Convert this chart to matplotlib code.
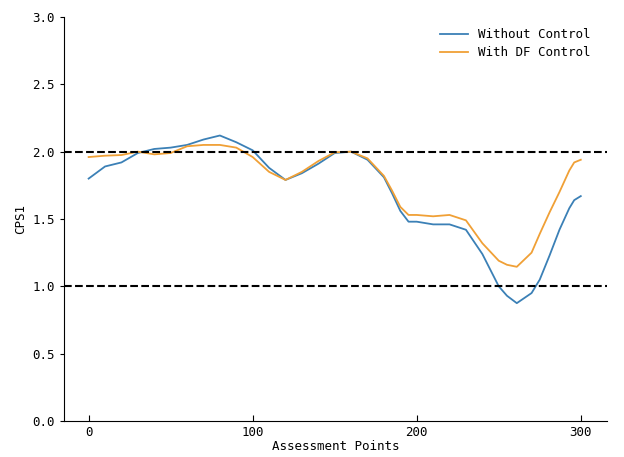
import numpy as np
import matplotlib
matplotlib.use("Agg")
import matplotlib.pyplot as plt

# assessment points
points = [0, 10, 20, 30, 40, 50, 60, 70, 80, 90,
          100, 110, 120, 130, 140, 150, 160, 170, 180, 185,
          190, 195, 200, 210, 220, 230, 240, 250, 255, 261,
          270, 275, 281, 287, 293, 296, 300]

without_control = [1.80, 1.89, 1.92, 1.99, 2.02, 2.03, 2.05, 2.09, 2.12, 2.07,
                   2.01, 1.88, 1.79, 1.84, 1.91, 1.99, 2.00, 1.94, 1.81, 1.69,
                   1.56, 1.48, 1.48, 1.46, 1.46, 1.42, 1.24, 1.00, 0.93, 0.875,
                   0.95, 1.05, 1.23, 1.42, 1.58, 1.64, 1.67]
with_df_control = [1.96, 1.97, 1.975, 2.00, 1.98, 1.99, 2.04, 2.05, 2.05, 2.03,
                   1.96, 1.85, 1.79, 1.85, 1.93, 1.995, 2.00, 1.95, 1.82, 1.71,
                   1.59, 1.53, 1.53, 1.52, 1.53, 1.49, 1.32, 1.19, 1.16, 1.145,
                   1.25, 1.39, 1.55, 1.70, 1.86, 1.92, 1.94]

limits = [2.0, 1.0]

plt.rcParams['font.family'] = ['DejaVu Sans Mono']
plt.rcParams['font.size'] = 9

fig = plt.figure(figsize=(6.24, 4.57), dpi=100)
ax = fig.add_axes([0.1026, 0.0788, 0.8702, 0.884])

ax.plot(points, without_control, color='#3b80b6', lw=1.3, label='Without Control')
ax.plot(points, with_df_control, color='#f0a036', lw=1.3, label='With DF Control')
for lim in limits:
    ax.axhline(lim, color='black', ls='--', lw=1.5)

ax.set_xlim(-15, 316)
ax.set_ylim(0, 3)
ax.set_xticks([0, 100, 200, 300])
ax.set_yticks(np.arange(0, 3.01, 0.5))
ax.set_yticklabels(['%.1f' % v for v in np.arange(0, 3.01, 0.5)])
ax.tick_params(axis='x', direction='in', length=4)
ax.tick_params(axis='y', direction='out', length=3)

ax.spines['top'].set_visible(False)
ax.spines['right'].set_visible(False)
ax.set_xlabel('Assessment Points', labelpad=1)
ax.set_ylabel('CPS1', labelpad=4)

ax.legend(loc='upper right', frameon=False, bbox_to_anchor=(0.99, 1.0),
          handlelength=2.2, labelspacing=0.4)

fig.savefig('out.png', dpi=100)
